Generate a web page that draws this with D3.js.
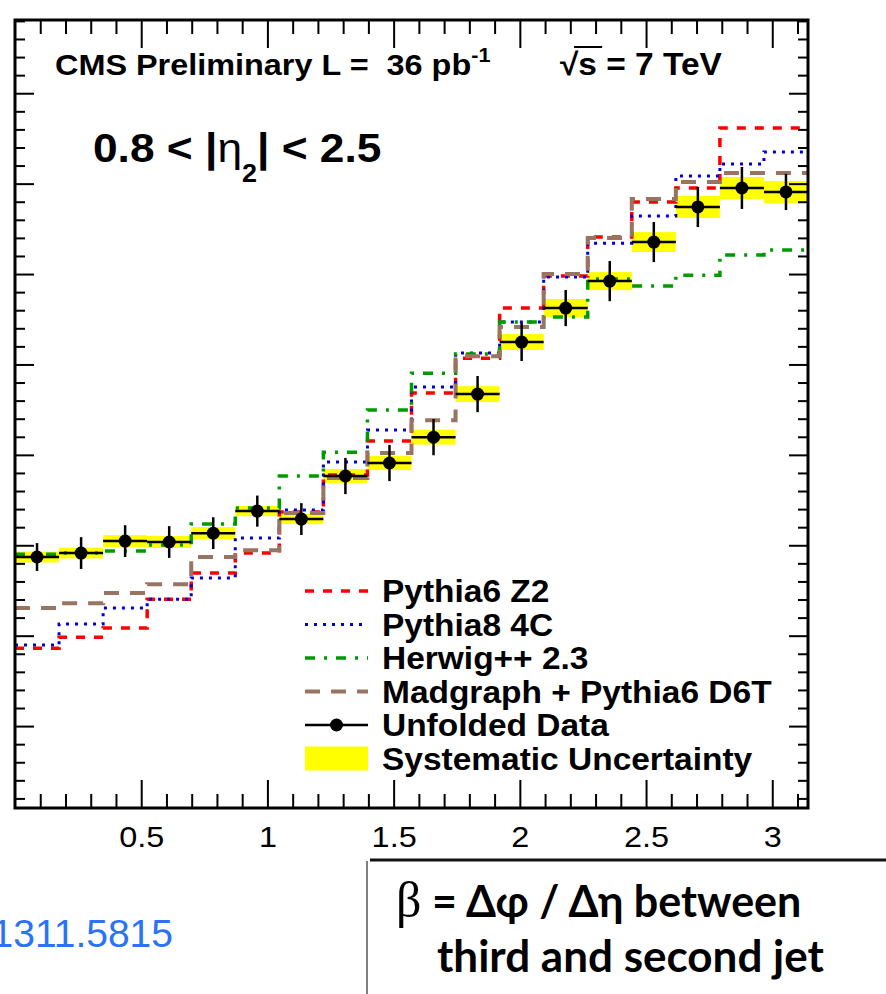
<!DOCTYPE html>
<html>
<head>
<meta charset="utf-8">
<script src="https://cdn.jsdelivr.net/npm/d3@7"></script>
<style>
body { margin: 0; background: #fff; }
svg { display: block; }
</style>
</head>
<body>
<svg id="chart" width="886" height="994"></svg>
<script>
// beta distribution, 0.8 < |eta2| < 2.5  (18 bins between 0 and pi)
const nBins = 18;
const binEdges = d3.range(nBins + 1).map(i => i * Math.PI / nBins);

const dataVals = [0.1935, 0.1957, 0.2023, 0.2018, 0.2067, 0.2189, 0.2145, 0.2383, 0.2455,
                  0.2598, 0.2836, 0.3124, 0.3312, 0.3461, 0.3677, 0.3871, 0.3976, 0.3954];
const statErr  = [0.0077, 0.0088, 0.0088, 0.0088, 0.0088, 0.0086, 0.0088, 0.0100, 0.0100,
                  0.0100, 0.0100, 0.0105, 0.0100, 0.0111, 0.0111, 0.0111, 0.0116, 0.0100];
const systErr  = [0.0030, 0.0030, 0.0033, 0.0033, 0.0033, 0.0028, 0.0028, 0.0039, 0.0039,
                  0.0041, 0.0044, 0.0044, 0.0050, 0.0050, 0.0055, 0.0061, 0.0061, 0.0061];

const pythia6Z2   = [0.1431, 0.1492, 0.1542, 0.1702, 0.1846, 0.1957, 0.2184, 0.2388, 0.2576,
                     0.2842, 0.3035, 0.3312, 0.3489, 0.3705, 0.3898, 0.3976, 0.4308, 0.4308];
const pythia84C   = [0.1448, 0.1564, 0.1653, 0.1702, 0.1819, 0.2040, 0.2195, 0.2460, 0.2637,
                     0.2875, 0.3063, 0.3235, 0.3483, 0.3671, 0.3821, 0.4042, 0.4108, 0.4175];
const herwig23    = [0.1951, 0.1957, 0.1968, 0.2001, 0.2117, 0.2206, 0.2383, 0.2515, 0.2748,
                     0.2952, 0.3058, 0.3235, 0.3262, 0.3472, 0.3434, 0.3494, 0.3605, 0.3633];
const madgraphD6T = [0.1653, 0.1680, 0.1736, 0.1785, 0.1935, 0.1973, 0.2178, 0.2372, 0.2510,
                     0.2692, 0.3046, 0.3207, 0.3500, 0.3699, 0.3915, 0.4009, 0.4059, 0.4059];

const xMajor = [0.5, 1, 1.5, 2, 2.5, 3];
const xMinor = d3.range(1, 32).map(i => i / 10).filter(v => Math.round(v * 10) % 5 !== 0);
const yMajor = [0.10, 0.15, 0.20, 0.25, 0.30, 0.35, 0.40, 0.45];
const yMinor = d3.range(6, 50).map(i => i / 100).filter(v => Math.round(v * 100) % 5 !== 0);

const series = [
	{ label: "Pythia6 Z2", values: pythia6Z2, color: "#ff0000", width: 3.5, dash: "9,9" },
	{ label: "Pythia8 4C", values: pythia84C, color: "#0000d0", width: 3, dash: "3,6" },
	{ label: "Herwig++ 2.3", values: herwig23, color: "#009a00", width: 3.5, dash: "10,9,3,9" },
	{ label: "Madgraph + Pythia6 D6T", values: madgraphD6T, color: "#9a7462", width: 4, dash: "15,11" }
];

const svg = d3.select("#chart");
const frame = { left: 15, right: 808, top: 20, bottom: 808 };
const sx = 1.08; // glyphs in the original are a bit wider than Arial

const x = d3.scaleLinear().domain([0, Math.PI]).range([frame.left, frame.right]);
const y = d3.scaleLinear().domain([0.0547, 0.4905]).range([frame.bottom, frame.top]);

svg.append("clipPath").attr("id", "plotClip")
	.append("rect")
	.attr("x", frame.left).attr("y", frame.top)
	.attr("width", frame.right - frame.left).attr("height", frame.bottom - frame.top);

const plot = svg.append("g").attr("clip-path", "url(#plotClip)");

// systematic bands
plot.selectAll("rect.syst")
	.data(dataVals)
	.join("rect")
	.attr("class", "syst")
	.attr("x", (d, i) => x(binEdges[i]))
	.attr("width", (d, i) => x(binEdges[i + 1]) - x(binEdges[i]))
	.attr("y", (d, i) => y(d + systErr[i]))
	.attr("height", (d, i) => y(d - systErr[i]) - y(d + systErr[i]))
	.attr("fill", "#ffff00");

// MC step histograms
const stepLine = d3.line()
	.x(d => x(d[0]))
	.y(d => y(d[1]))
	.curve(d3.curveStepAfter);

series.forEach(s => {
	const pts = binEdges.map((e, i) => [e, s.values[Math.min(i, nBins - 1)]]);
	plot.append("path")
		.datum(pts)
		.attr("fill", "none")
		.attr("stroke", s.color)
		.attr("stroke-width", s.width)
		.attr("stroke-dasharray", s.dash)
		.attr("d", stepLine);
});

// unfolded data
const pts = plot.selectAll("g.pt")
	.data(dataVals)
	.join("g")
	.attr("class", "pt");

pts.append("line")
	.attr("x1", (d, i) => x(binEdges[i]))
	.attr("x2", (d, i) => x(binEdges[i + 1]))
	.attr("y1", d => y(d)).attr("y2", d => y(d))
	.attr("stroke", "#000").attr("stroke-width", 2.5);

pts.append("line")
	.attr("x1", (d, i) => x((binEdges[i] + binEdges[i + 1]) / 2))
	.attr("x2", (d, i) => x((binEdges[i] + binEdges[i + 1]) / 2))
	.attr("y1", (d, i) => y(d + statErr[i]))
	.attr("y2", (d, i) => y(d - statErr[i]))
	.attr("stroke", "#000").attr("stroke-width", 2.5);

pts.append("circle")
	.attr("cx", (d, i) => x((binEdges[i] + binEdges[i + 1]) / 2))
	.attr("cy", d => y(d))
	.attr("r", 6.5)
	.attr("fill", "#000");

// axes: ticks drawn inward on all four sides
function tickAxis(axis, tx, ty, values, size, labels) {
	const g = svg.append("g")
		.attr("transform", `translate(${tx},${ty})`)
		.call(axis.tickValues(values).tickSize(-size).tickPadding(18)
			.tickFormat(labels ? d3.format("~g") : ""));
	g.select(".domain").remove();
	g.selectAll("line").attr("stroke", "#000").attr("stroke-width", 2);
	return g;
}

const xAxisG = tickAxis(d3.axisBottom(x), 0, frame.bottom, xMajor, 28, true);
xAxisG.selectAll("text")
	.attr("font-family", "'Liberation Sans', Arial, sans-serif")
	.attr("font-size", 30)
	.attr("fill", "#000")
	.attr("transform", `scale(${sx},1)`);
tickAxis(d3.axisBottom(x), 0, frame.bottom, xMinor, 14, false);
tickAxis(d3.axisTop(x), 0, frame.top, xMajor, 28, false);
tickAxis(d3.axisTop(x), 0, frame.top, xMinor, 14, false);
tickAxis(d3.axisLeft(y), frame.left, 0, yMajor, 19, false);
tickAxis(d3.axisLeft(y), frame.left, 0, yMinor, 10, false);
tickAxis(d3.axisRight(y), frame.right, 0, yMajor, 19, false);
tickAxis(d3.axisRight(y), frame.right, 0, yMinor, 10, false);

svg.append("rect")
	.attr("x", frame.left).attr("y", frame.top)
	.attr("width", frame.right - frame.left).attr("height", frame.bottom - frame.top)
	.attr("fill", "none").attr("stroke", "#000").attr("stroke-width", 3);

// header texts
const helv = "'Liberation Sans', Arial, Helvetica, sans-serif";

const title = svg.append("text")
	.attr("transform", `translate(55,75) scale(${sx},1)`)
	.attr("font-family", helv).attr("font-weight", "bold").attr("font-size", 30);
title.append("tspan").text("CMS Preliminary L =  36 pb").style("white-space", "pre");
title.append("tspan").text("-1").attr("font-size", 20).attr("dy", -13);

const energy = svg.append("g").attr("transform", `translate(560,75) scale(${sx},1)`);
energy.append("text")
	.attr("font-family", helv).attr("font-weight", "bold").attr("font-size", 31)
	.text("√s = 7 TeV");
energy.append("line")
	.attr("x1", 13).attr("x2", 39).attr("y1", -28).attr("y2", -28)
	.attr("stroke", "#000").attr("stroke-width", 2);

const etaLabel = svg.append("text")
	.attr("transform", `translate(93,162) scale(${sx},1)`)
	.attr("font-family", helv).attr("font-weight", "bold").attr("font-size", 41);
etaLabel.append("tspan").text("0.8 < |");
etaLabel.append("tspan").text("η").attr("font-weight", "normal");
etaLabel.append("tspan").text("2").attr("font-size", 25).attr("dy", 20);
etaLabel.append("tspan").text("| < 2.5").attr("dy", -20);

// legend
const legendX = 305, legendW = 63, legendTextX = 382;
const legendY0 = 591, legendStep = 33.5;
const legendLabels = series.map(s => s.label).concat(["Unfolded Data", "Systematic Uncertainty"]);

const legend = svg.append("g");
series.forEach((s, i) => {
	const cy = legendY0 + i * legendStep;
	legend.append("line")
		.attr("x1", legendX).attr("x2", legendX + legendW)
		.attr("y1", cy).attr("y2", cy)
		.attr("stroke", s.color).attr("stroke-width", s.width)
		.attr("stroke-dasharray", s.dash);
});
const dataRowY = legendY0 + 4 * legendStep;
legend.append("line")
	.attr("x1", legendX).attr("x2", legendX + legendW)
	.attr("y1", dataRowY).attr("y2", dataRowY)
	.attr("stroke", "#000").attr("stroke-width", 2.5);
legend.append("circle")
	.attr("cx", legendX + legendW / 2).attr("cy", dataRowY).attr("r", 6.5).attr("fill", "#000");
const systRowY = legendY0 + 5 * legendStep;
legend.append("rect")
	.attr("x", legendX).attr("y", systRowY - 12)
	.attr("width", legendW).attr("height", 24)
	.attr("fill", "#ffff00");

legend.selectAll("text")
	.data(legendLabels)
	.join("text")
	.attr("transform", (d, i) => `translate(${legendTextX},${legendY0 + i * legendStep + 11}) scale(${sx},1)`)
	.attr("font-family", helv).attr("font-weight", "bold").attr("font-size", 31)
	.attr("fill", "#000")
	.text(d => d);

// arXiv reference, clipped at the left edge as in the original slide
svg.append("text")
	.attr("x", 173).attr("y", 947)
	.attr("text-anchor", "end")
	.attr("font-family", helv).attr("font-size", 39)
	.attr("fill", "#2a72f8")
	.text("1311.5815");

// definition box
svg.append("line")
	.attr("x1", 370).attr("x2", 886).attr("y1", 860).attr("y2", 860)
	.attr("stroke", "#111").attr("stroke-width", 3);
svg.append("line")
	.attr("x1", 367).attr("x2", 367).attr("y1", 861).attr("y2", 994)
	.attr("stroke", "#555").attr("stroke-width", 1.5);

const gill = "Lato, 'DejaVu Sans', sans-serif";
const def1 = svg.append("text")
	.attr("x", 396).attr("y", 917)
	.attr("font-family", gill).attr("font-weight", "bold").attr("font-size", 43);
def1.append("tspan").text("β").attr("font-family", "'Liberation Serif', 'DejaVu Serif', serif")
	.attr("font-weight", "normal").attr("font-size", 50);
def1.append("tspan").text(" = Δφ / Δη ");
def1.append("tspan").text("between");

svg.append("text")
	.attr("x", 437).attr("y", 972)
	.attr("font-family", gill).attr("font-weight", "bold").attr("font-size", 44)
	.text("third and second jet");
</script>
</body>
</html>
